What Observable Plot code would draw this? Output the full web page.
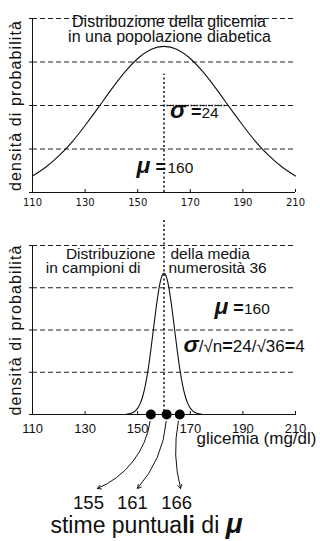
<!DOCTYPE html>
<html><head><meta charset="utf-8">
<script src="https://cdn.jsdelivr.net/npm/d3@7"></script>
<script src="https://cdn.jsdelivr.net/npm/@observablehq/plot@0.6"></script>
<style>
html,body{margin:0;padding:0;background:#fff;}
#chart{width:320px;height:541px;overflow:hidden;background:#fff;}
#chart svg{display:block;}
#chart text{white-space:pre;}
</style></head><body>
<div id="chart"></div>
<script>
// ---------- data ----------
const xTicks = [110, 130, 150, 170, 190, 210];
const yLevels = [0, 1, 2, 3, 4];
const gridLevels = [1, 2, 3, 4];
const mu = 160, sigma = 24, n = 36, se = 4;

// population density curve (grid units)
const popX = [110,115,120,125,130,135,140,145,150,155,160,165,170,175,180,185,190,195,200,205,210];
const popY = [0.38,0.58,0.84,1.16,1.54,1.95,2.37,2.76,3.08,3.29,3.36,3.29,3.08,2.76,2.37,1.95,1.54,1.16,0.84,0.58,0.38];

// distribution of the sample mean (n = 36)
const meanX = [110,130,145,146,147,148,149,150,151,152,153,154,155,156,157,158,159,160,161,162,163,164,165,166,167,168,169,170,171,172,173,174,175,190,210];
const meanY = [0,0,0,0.01,0.02,0.04,0.08,0.15,0.27,0.45,0.72,1.08,1.53,2.03,2.52,2.95,3.24,3.34,3.24,2.95,2.52,2.03,1.53,1.08,0.72,0.45,0.27,0.15,0.08,0.04,0.02,0.01,0,0,0];

const estimates = [155, 161, 166];

const topTitle = ["Distribuzione della glicemia", "in una popolazione diabetica"];
const bottomTitleLeft = ["Distribuzione", "in campioni di"];
const bottomTitleRight = ["della media", "numerosità 36"];
const yLabel = "densità di probabilità";
const xLabel = "glicemia (mg/dl)";
const caption = "stime puntuali di μ";

// ---------- annotation layout (data units / styles) ----------
const estimateLabelX = [131.3, 148.0, 164.8];
const arrowEndX = [134.7, 149.9, 166.3];
const arrowEndY = -1.75;
const arrowBend = [32, 20, -14];

const SANS = "Liberation Sans, Arial, Helvetica, sans-serif";
const INK = "#111";
const SYM = "font-weight:bold;font-style:italic;";
const EQ = "font-weight:bold;font-size:18px;";

const sigmaTop = `σ =${sigma}`;
const muTopSym = "μ =";
const muTopVal = `${mu}`;
const muBottom = `μ =${mu}`;
const seLabel = `σ/√n=${sigma}/√${n}=${se}`;

const richParts = {
  [sigmaTop]: [["σ", SYM + "font-size:24px"], [" =", EQ], [`${sigma}`, "font-size:15.5px"]],
  [muTopSym]: [["μ", SYM + "font-size:23px"], [" =", EQ]],
  [muBottom]: [["μ", SYM + "font-size:23px"], [" =", EQ], [`${mu}`, "font-size:15.5px"]],
  [seLabel]: [["σ", SYM + "font-size:23px"], ["/√n", "font-size:17px"], ["=", EQ], [`${sigma}/√${n}`, "font-size:17px"], ["=", EQ], [`${se}`, "font-size:17px"]],
  [caption]: [["stime puntua", ""], ["li", "font-weight:bold"], [" di ", ""], ["μ", SYM + "font-size:28px"]]
};

const popData = popX.map((x, i) => ({x, y: popY[i]}));
const meanData = meanX.map((x, i) => ({x, y: meanY[i]}));

function frameMarks(tickPadding, tickFont, tickSize) {
  return [
    Plot.ruleY(gridLevels, {stroke: "#222", strokeWidth: 1, strokeDasharray: "5,3"}),
    Plot.ruleY(yLevels, {x1: 110, x2: 110, insetLeft: -3, stroke: INK}),
    Plot.ruleX([110], {y1: 0, y2: 4, stroke: INK}),
    Plot.ruleY([0], {stroke: INK}),
    Plot.ruleX(xTicks, {y1: 0, y2: 0, insetTop: -3, stroke: INK}),
    Plot.axisX({ticks: xTicks, tickSize: 0, tickPadding, label: null, fontFamily: tickFont, fontSize: tickSize, tickFormat: d => String(d), fill: INK})
  ];
}

function enrich(svg) {
  d3.select(svg).selectAll("text").each(function () {
    if (this.textContent === yLabel) {
      this.style.letterSpacing = "1.1px";
      return;
    }
    const p = richParts[this.textContent];
    if (!p) return;
    const t = d3.select(this);
    t.text(null);
    p.forEach(([s, st]) => t.append("tspan").attr("style", st).text(s));
  });
}

// ---------- top panel ----------
const topPlot = Plot.plot({
  width: 320, height: 220,
  marginLeft: 32, marginRight: 25, marginTop: 18, marginBottom: 28,
  x: {domain: [110, 210]},
  y: {domain: [0, 4], axis: null},
  style: {fontFamily: SANS, fontSize: "10px", overflow: "visible", background: "white", color: INK},
  marks: [
    ...frameMarks(6, "DejaVu Sans", 10),
    Plot.line(popData, {x: "x", y: "y", curve: "natural", stroke: INK, strokeWidth: 1.1}),
    Plot.ruleX([{x: mu, y: d3.max(popY)}], {x: "x", y1: 0, y2: "y", insetBottom: -28, stroke: INK, strokeWidth: 1.5, strokeDasharray: "2,2.5"}),
    Plot.ruleY([{y: 2, x1: mu, x2: mu + sigma}], {y: "y", x1: "x1", x2: "x2", stroke: INK, strokeWidth: 1.6, strokeDasharray: "1.5,1.5"}),
    Plot.text([topTitle[0]], {frameAnchor: "top", lineAnchor: "bottom", dx: 5, dy: 8, fontSize: 16, fill: INK}),
    Plot.text([topTitle[1]], {frameAnchor: "top", lineAnchor: "bottom", dx: 5.5, dy: 23, fontSize: 16, fill: INK}),
    Plot.text([yLabel], {frameAnchor: "left", textAnchor: "middle", rotate: -90, dx: -17, fontSize: 16, fill: INK}),
    Plot.text([sigmaTop], {x: mu, y: 1.72, textAnchor: "start", lineAnchor: "bottom", dx: 6, fill: INK}),
    Plot.text([muTopSym], {x: mu, y: 0.44, textAnchor: "end", lineAnchor: "bottom", dx: 2, fill: INK}),
    Plot.text([muTopVal], {x: mu, y: 0.44, textAnchor: "start", lineAnchor: "bottom", dx: 3.5, fontSize: 15.5, fill: INK})
  ]
});

// ---------- bottom panel ----------
const bottomPlot = Plot.plot({
  width: 320, height: 321,
  marginLeft: 32, marginRight: 25, marginTop: 25, marginBottom: 127,
  x: {domain: [110, 210]},
  y: {domain: [0, 4], axis: null},
  style: {fontFamily: SANS, fontSize: "10px", overflow: "visible", background: "white", color: INK},
  marks: [
    ...frameMarks(9, SANS, 13),
    Plot.line(meanData, {x: "x", y: "y", curve: "monotone-x", stroke: INK, strokeWidth: 1.1}),
    Plot.ruleX([mu], {insetTop: -25, stroke: INK, strokeWidth: 1.5, strokeDasharray: "2,2.5"}),
    Plot.text([bottomTitleLeft[0]], {x: mu, frameAnchor: "top", textAnchor: "end", lineAnchor: "bottom", dx: -8.5, dy: 13, fontSize: 15.5, fill: INK}),
    Plot.text([bottomTitleRight[0]], {x: mu, frameAnchor: "top", textAnchor: "start", lineAnchor: "bottom", dx: 6.5, dy: 13, fontSize: 15.5, fill: INK}),
    Plot.text([bottomTitleLeft[1]], {x: mu, frameAnchor: "top", textAnchor: "end", lineAnchor: "bottom", dx: -23.5, dy: 27.5, fontSize: 15.5, fill: INK}),
    Plot.text([bottomTitleRight[1]], {x: mu, frameAnchor: "top", textAnchor: "start", lineAnchor: "bottom", dx: 4.5, dy: 27.5, fontSize: 15.5, fill: INK}),
    Plot.text([yLabel], {frameAnchor: "left", textAnchor: "middle", rotate: -90, dx: -17, fontSize: 16, fill: INK}),
    Plot.text([muBottom], {x: 179.2, y: 2.39, textAnchor: "start", lineAnchor: "bottom", fill: INK}),
    Plot.text([seLabel], {x: 167.4, y: 1.47, textAnchor: "start", lineAnchor: "bottom", fill: INK}),
    Plot.text([xLabel], {frameAnchor: "bottom-right", textAnchor: "end", lineAnchor: "bottom", dx: 21, dy: 29, fontSize: 17, fill: INK}),
    ...estimates.map((v, i) => Plot.arrow([v], {
      x1: d => d, y1: 0, x2: () => arrowEndX[i], y2: arrowEndY,
      bend: arrowBend[i], headLength: 6, insetStart: 7, stroke: INK, strokeWidth: 1
    })),
    Plot.dot(estimates, {x: d => d, y: 0, r: 5, fill: "#000", stroke: null}),
    Plot.text(estimates, {x: (d, i) => estimateLabelX[i], text: d => String(d), frameAnchor: "bottom", lineAnchor: "bottom", dy: 94, fontSize: 18.5, fill: INK}),
    Plot.text([caption], {frameAnchor: "bottom", lineAnchor: "bottom", dx: -17.5, dy: 118, fontSize: 23, fill: INK})
  ]
});

enrich(topPlot);
enrich(bottomPlot);
const root = document.getElementById("chart");
root.appendChild(topPlot);
root.appendChild(bottomPlot);
</script>
</body></html>
